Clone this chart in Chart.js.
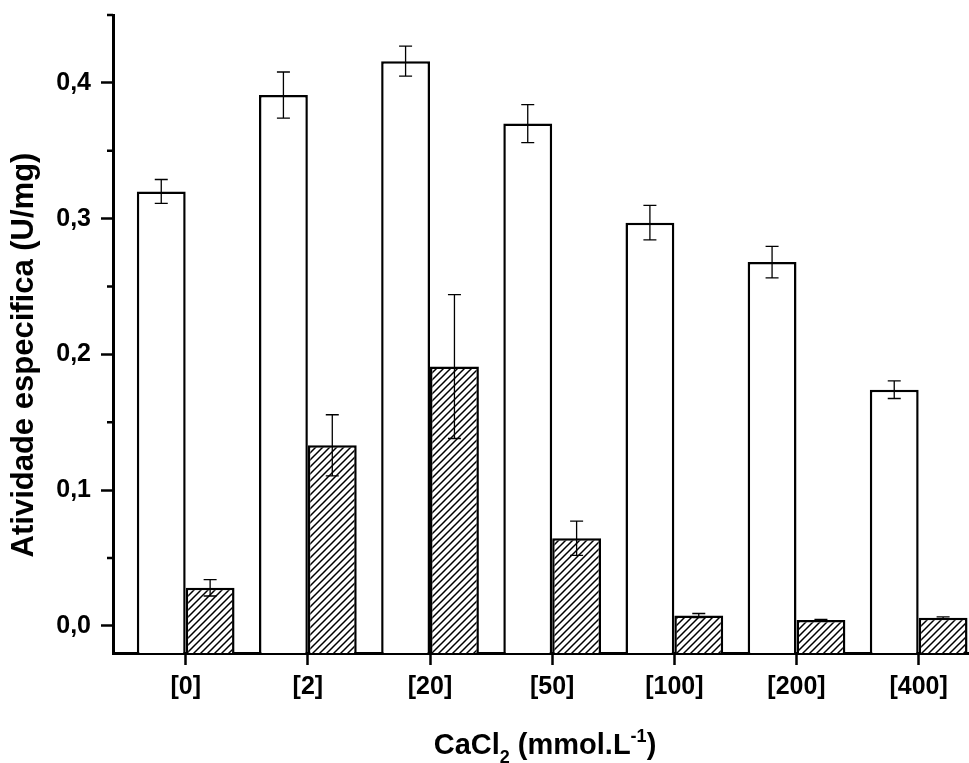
<!doctype html>
<html>
<head>
<title>Atividade especifica - CaCl2</title>
<script src="https://cdn.jsdelivr.net/npm/chart.js@4.4.0/dist/chart.umd.min.js"></script>
<style>
  body { margin: 0; background: #fff; }
  canvas { display: block; }
</style>
</head>
<body>
<canvas id="atividadeChart" width="969" height="763"></canvas>
<script>
// CaCl2 concentrations (mmol/L) shown as category ticks
var doses = ['0', '2', '20', '50', '100', '200', '400'];

// open bars
var openVals = [0.320, 0.391, 0.416, 0.370, 0.297, 0.268, 0.174];
var openErr  = [0.0088, 0.017, 0.011, 0.014, 0.0127, 0.0116, 0.0065];

// hatched bars
var hatchVals = [0.028, 0.133, 0.191, 0.0645, 0.0076, 0.0044, 0.0059];
var hatchErr  = [0.006, 0.0225, 0.053, 0.0126, 0.0015, 0.0004, 0.0007];

var yMin = -0.02, yMax = 0.45;
var yMinor = [0.05, 0.15, 0.25, 0.35, 0.45];

var FONT = "'Liberation Sans', Arial, sans-serif";

function hatchPattern() {
    var s = 7;
    var c = document.createElement('canvas');
    c.width = s; c.height = s;
    var g = c.getContext('2d');
    g.fillStyle = '#fff';
    g.fillRect(0, 0, s, s);
    g.strokeStyle = '#000';
    g.lineWidth = 1.5;
    g.beginPath();
    g.moveTo(0, s); g.lineTo(s, 0);
    g.moveTo(-1, 1); g.lineTo(1, -1);
    g.moveTo(s - 1, s + 1); g.lineTo(s + 1, s - 1);
    g.stroke();
    return g.createPattern(c, 'repeat');
}

function points(vals) {
    return vals.map(function (v, i) { return { x: i, y: v }; });
}

// vertical error bars with caps, from each dataset's "errors" array
var errorBars = {
    id: 'errorBars',
    afterDatasetsDraw: function (chart) {
        var ctx = chart.ctx, ys = chart.scales.y, cap = 6.5;
        ctx.save();
        ctx.strokeStyle = '#000';
        ctx.lineWidth = 1.3;
        chart.data.datasets.forEach(function (ds, d) {
            chart.getDatasetMeta(d).data.forEach(function (bar, i) {
                var v = ds.data[i].y, e = ds.errors[i];
                var t = ys.getPixelForValue(v + e), b = ys.getPixelForValue(v - e);
                ctx.beginPath();
                ctx.moveTo(bar.x, t); ctx.lineTo(bar.x, b);
                ctx.moveTo(bar.x - cap, t); ctx.lineTo(bar.x + cap, t);
                ctx.moveTo(bar.x - cap, b); ctx.lineTo(bar.x + cap, b);
                ctx.stroke();
            });
        });
        ctx.restore();
    }
};

// minor y ticks and the two axis titles (x title needs sub/superscript)
var axisExtras = {
    id: 'axisExtras',
    afterDraw: function (chart) {
        var ctx = chart.ctx, ys = chart.scales.y, left = chart.chartArea.left;
        ctx.save();
        ctx.strokeStyle = '#000';
        ctx.lineWidth = 2.5;
        ctx.beginPath();
        yMinor.forEach(function (v) {
            var p = ys.getPixelForValue(v);
            ctx.moveTo(left - 6, p); ctx.lineTo(left, p);
        });
        ctx.stroke();

        ctx.fillStyle = '#000';
        // y title
        ctx.save();
        ctx.translate(24, 355);
        ctx.rotate(-Math.PI / 2);
        ctx.font = 'bold 31px ' + FONT;
        ctx.textAlign = 'center';
        ctx.textBaseline = 'middle';
        ctx.fillText('Atividade especifica (U/mg)', 0, 0);
        ctx.restore();

        // x title: CaCl2 (mmol.L-1)
        var parts = [
            { t: 'CaCl', size: 29, dy: 0 },
            { t: '2', size: 18, dy: 9 },
            { t: ' (mmol.L', size: 29, dy: 0 },
            { t: '-1', size: 18, dy: -12 },
            { t: ')', size: 29, dy: 0 }
        ];
        var total = 0;
        parts.forEach(function (p) {
            ctx.font = 'bold ' + p.size + 'px ' + FONT;
            p.w = ctx.measureText(p.t).width;
            total += p.w;
        });
        var x = 545 - total / 2, base = 754;
        ctx.textAlign = 'left';
        ctx.textBaseline = 'alphabetic';
        parts.forEach(function (p) {
            ctx.font = 'bold ' + p.size + 'px ' + FONT;
            ctx.fillText(p.t, x, base + p.dy);
            x += p.w;
        });
        ctx.restore();
    }
};

var ctx = document.getElementById('atividadeChart').getContext('2d');
var chart = new Chart(ctx, {
    type: 'bar',
    data: {
        datasets: [{
            data: points(openVals),
            errors: openErr,
            backgroundColor: '#fff',
            borderColor: '#000',
            borderWidth: 2.5,
            base: yMin
        }, {
            data: points(hatchVals),
            errors: hatchErr,
            backgroundColor: hatchPattern(),
            borderColor: '#000',
            borderWidth: 2.5,
            base: yMin
        }]
    },
    options: {
        responsive: false,
        animation: false,
        devicePixelRatio: 1,
        layout: { padding: { top: 15, right: 0, left: 0, bottom: 0 } },
        categoryPercentage: 0.8,
        barPercentage: 1.0,
        plugins: {
            legend: { display: false },
            tooltip: { enabled: false }
        },
        scales: {
            x: {
                type: 'linear',
                min: -0.595,
                max: 6.412,
                offset: false,
                z: 1,
                afterFit: function (s) {
                    s.height = 110;
                    s.paddingLeft = 0; s.paddingRight = 0;
                },
                grid: { offset: false, drawOnChartArea: false, tickLength: 12, tickWidth: 2.5, tickColor: '#000' },
                border: { display: true, color: '#000', width: 3 },
                ticks: {
                    stepSize: 1,
                    includeBounds: false,
                    autoSkip: false,
                    maxRotation: 0,
                    padding: 7,
                    color: '#000',
                    font: { family: FONT, size: 25, weight: 'bold' },
                    callback: function (v) { return doses[v] !== undefined ? '[' + doses[v] + ']' : ''; }
                }
            },
            y: {
                type: 'linear',
                min: yMin,
                max: yMax,
                z: 1,
                afterFit: function (s) {
                    s.width = 113;
                    s.paddingTop = 0; s.paddingBottom = 0;
                },
                grid: { drawOnChartArea: false, tickLength: 12, tickWidth: 2.5, tickColor: '#000' },
                border: { display: true, color: '#000', width: 3 },
                ticks: {
                    stepSize: 0.1,
                    includeBounds: false,
                    padding: 10,
                    color: '#000',
                    font: { family: FONT, size: 25, weight: 'bold' },
                    callback: function (v) { return v.toFixed(1).replace('.', ','); }
                }
            }
        }
    },
    plugins: [errorBars, axisExtras]
});
</script>
</body>
</html>
